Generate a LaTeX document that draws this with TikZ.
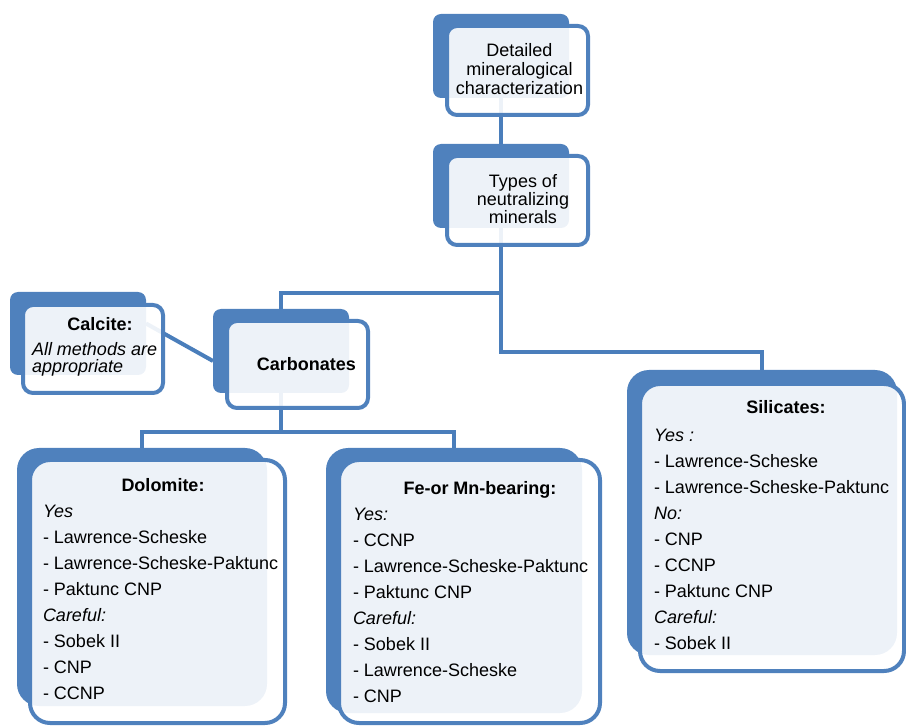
\documentclass[tikz,border=0pt]{standalone}
\usepackage{fontspec}
\setmainfont{Liberation Sans}
\usetikzlibrary{backgrounds,calc}
\definecolor{boxblue}{HTML}{4F81BD}
\definecolor{linkblue}{HTML}{4A7EBB}
\begin{document}
\begin{tikzpicture}[x=1pt,y=-1pt,
  backbox/.style={rectangle, fill=boxblue, draw=none, inner sep=0pt, outer sep=0pt, rounded corners=8pt},
  frontbox/.style={rectangle, draw=boxblue, line width=4pt, fill=white, fill opacity=0.9, inner sep=0pt, outer sep=0pt, rounded corners=10pt},
  bigback/.style={backbox, rounded corners=22pt},
  bigfront/.style={frontbox, rounded corners=20pt},
  link/.style={draw=linkblue, line width=4pt},
  txt/.style={inner sep=0pt, outer sep=0pt, text=black, font={\fontsize{18}{19}\selectfont}},
  listtxt/.style={inner sep=0pt, outer sep=0pt, text=black, align=left, anchor=base west, font={\fontsize{18}{26}\selectfont}},
]
\useasboundingbox (0,0) rectangle (906,727);

% boxes
\node[backbox, minimum width=136pt, minimum height=84pt] (B1b) at (501,56) {};
\node[frontbox, minimum width=141pt, minimum height=89pt] (B1f) at (517.5,70.5) {};
\node[backbox, minimum width=136pt, minimum height=84pt] (B2b) at (501,186) {};
\node[frontbox, minimum width=141pt, minimum height=89pt] (B2f) at (517.5,200.5) {};
\node[backbox, minimum width=136pt, minimum height=83pt] (Cab) at (78,333.5) {};
\node[frontbox, minimum width=140pt, minimum height=88pt] (Caf) at (93,349) {};
\node[backbox, minimum width=136pt, minimum height=84pt] (Cb) at (281,351) {};
\node[frontbox, minimum width=141pt, minimum height=87pt] (Cf) at (297.5,364.5) {};
\node[bigback, minimum width=250pt, minimum height=258pt] (Db) at (142,577) {};
\node[bigfront, minimum width=255pt, minimum height=263pt] (Df) at (157.5,591.5) {};
\node[bigback, minimum width=256pt, minimum height=265pt] (Fb) at (454,580.5) {};
\node[bigfront, minimum width=261pt, minimum height=263pt] (Ff) at (469.5,591.5) {};
\node[bigback, minimum width=270pt, minimum height=285pt] (Sb) at (762,512.5) {};
\node[bigfront, minimum width=264pt, minimum height=287pt] (Sf) at (772,527.5) {};

% junction levels
\coordinate (j1) at (0,352);
\coordinate (j2) at (0,293);
\coordinate (j3) at (0,432);

% connectors
\begin{pgfonlayer}{background}
\draw[link] (B1b.center) -- (B2b.center);
\draw[link] (B2b.center) -- (B2b.center |- j1) -| (Sb.center);
\draw[link] (B2b.center |- j2) -| (Cb.center);
\draw[link] (Cb.center) -- (Cb.center |- j3);
\draw[link] (Db.center) |- (Fb.center |- j3) -- (Fb.center);
\draw[link] ($(Cab.east)+(0,-10)$) -- ($(Cb.west)+(0,10)$);
\end{pgfonlayer}

% texts (base anchor of a multi-line node = baseline of its last line)
\node[txt, anchor=base, align=center] (t1) at (519.5,95) {Detailed\\mineralogical\\characterization};
\node[txt, anchor=base, align=center, font={\fontsize{18}{18}\selectfont}] (t2) at (523,224) {Types of\\neutralizing\\minerals};
\node[txt, anchor=base] (t3) at (306.5,371) {\bfseries Carbonates};
\node[txt, anchor=base] (t4) at (100,331) {\bfseries Calcite:};
\node[txt, anchor=base west, align=left, font={\fontsize{18}{17}\selectfont\itshape}] (t5) at (32,373) {All methods are\\appropriate};

\node[txt, anchor=base] (t6) at (163,492) {\bfseries Dolomite:};
\node[listtxt] (l6) at (43,699) {\textit{Yes}\\- Lawrence-Scheske\\- Lawrence-Scheske-Paktunc\\- Paktunc CNP\\\textit{Careful:}\\- Sobek II\\- CNP\\- CCNP};

\node[txt, anchor=base] (t7) at (480,495) {\bfseries Fe-or Mn-bearing:};
\node[listtxt] (l7) at (353,702) {\textit{Yes:}\\- CCNP\\- Lawrence-Scheske-Paktunc\\- Paktunc CNP\\\textit{Careful:}\\- Sobek II\\- Lawrence-Scheske\\- CNP};

\node[txt, anchor=base] (t8) at (786,414) {\bfseries Silicates:};
\node[listtxt] (l8) at (654,649) {\textit{Yes :}\\- Lawrence-Scheske\\- Lawrence-Scheske-Paktunc\\\textit{No:}\\- CNP\\- CCNP\\- Paktunc CNP\\\textit{Careful:}\\- Sobek II};
\end{tikzpicture}
\end{document}
